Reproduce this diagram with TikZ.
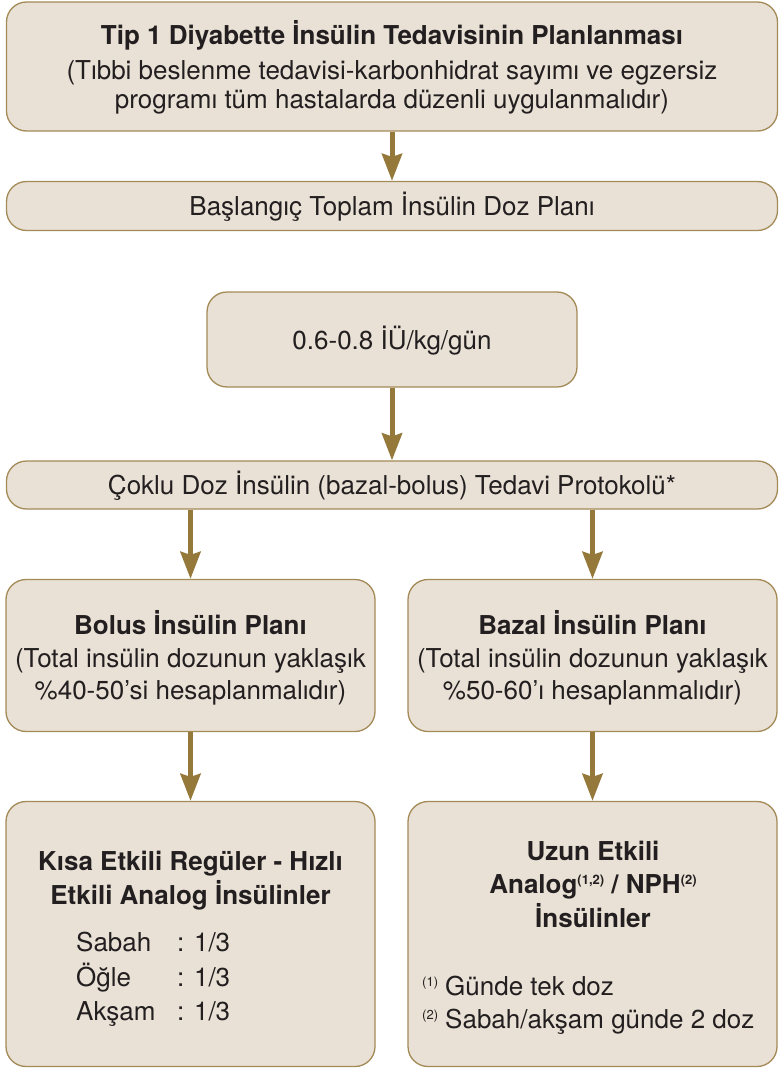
\documentclass[tikz,border=0pt]{standalone}
\usepackage{fontspec}
\setmainfont{TeX Gyre Heros}
\usetikzlibrary{arrows.meta}
\definecolor{boxfill}{HTML}{E9E1D5}
\definecolor{boxline}{HTML}{A38A57}
\definecolor{arrowc}{HTML}{95793A}
\definecolor{txt}{HTML}{231F20}
\newcommand{\mysup}[1]{\raisebox{8.5pt}{\fontsize{13}{13}\selectfont #1}}
\begin{document}
\begin{tikzpicture}[x=1pt,y=-1pt,
  box/.style={draw=boxline, line width=1.3pt, fill=boxfill, rounded corners=20pt, inner sep=0pt},
  arr/.style={draw=arrowc, line width=5pt, -{Stealth[inset=3pt,width=20pt,length=27pt]}},
  lbl/.style={text=txt, font=\fontsize{26}{30}\selectfont, inner sep=0pt, anchor=base},
  lblw/.style={lbl, anchor=base west},
  bold/.style={font=\fontsize{26}{30}\selectfont\bfseries}]
\useasboundingbox (0,0) rectangle (781,1070);
% boxes
\node[box, minimum width=771pt, minimum height=129pt] (b1) at (392,66.5) {};
\node[box, minimum width=771pt, minimum height=49pt] (b2) at (392,206) {};
\node[box, minimum width=370pt, minimum height=95pt] (b3) at (392,339.5) {};
\node[box, minimum width=771pt, minimum height=48pt] (b4) at (392,485) {};
\node[box, minimum width=369pt, minimum height=152pt] (b5) at (190.5,655.5) {};
\node[box, minimum width=369pt, minimum height=152pt] (b6) at (592.5,655.5) {};
\node[box, minimum width=369pt, minimum height=265pt] (b7) at (190.5,934) {};
\node[box, minimum width=369pt, minimum height=265pt] (b8) at (592.5,934) {};
% arrows
\draw[arr] (b1.south) -- (b2.north);
\draw[arr] (b3.south) -- (b4.north);
\draw[arr] (b4.south -| b5.north) -- (b5.north);
\draw[arr] (b4.south -| b6.north) -- (b6.north);
\draw[arr] (b5.south) -- (b7.north);
\draw[arr] (b6.south) -- (b8.north);
% texts box1
\node[lbl, bold] (t1a) at (392,44.5) {Tip 1 Diyabette İnsülin Tedavisinin Planlanması};
\node[lbl] (t1b) at (392,79.5) {(Tıbbi beslenme tedavisi-karbonhidrat sayımı ve egzersiz};
\node[lbl] (t1c) at (392,108.5) {programı tüm hastalarda düzenli uygulanmalıdır)};
% box2
\node[lbl] (t2) at (392,215) {Başlangıç Toplam İnsülin Doz Planı};
% box3
\node[lbl] (t3) at (392,349.5) {0.6-0.8 İÜ/kg/gün};
% box4
\node[lbl] (t4) at (392,494) {Çoklu Doz İnsülin (bazal-bolus) Tedavi Protokolü*};
% box5
\node[lbl, bold] (t5a) at (190.5,634) {Bolus İnsülin Planı};
\node[lbl] (t5b) at (190.5,667) {(Total insülin dozunun yaklaşık};
\node[lbl] (t5c) at (190.5,699) {\%40-50’si hesaplanmalıdır)};
% box6
\node[lbl, bold] (t6a) at (592.5,634) {Bazal İnsülin Planı};
\node[lbl] (t6b) at (592.5,667) {(Total insülin dozunun yaklaşık};
\node[lbl] (t6c) at (592.5,699) {\%50-60’ı hesaplanmalıdır)};
% box7
\node[lbl, bold] (t7a) at (190.5,870) {Kısa Etkili Regüler - Hızlı};
\node[lbl, bold] (t7b) at (190.5,904) {Etkili Analog İnsülinler};
\node[lblw] (s1) at (76,951.5) {Sabah};
\node[lblw] (s2) at (76,986) {Öğle};
\node[lblw] (s3) at (76,1020) {Akşam};
\node[lblw] (v1) at (177,951.5) {: 1/3};
\node[lblw] (v2) at (177,986) {: 1/3};
\node[lblw] (v3) at (177,1020) {: 1/3};
% box8
\node[lbl, bold] (t8a) at (593,860) {Uzun Etkili};
\node[lbl, bold] (t8b) at (593,893) {Analog\mysup{(1,2)} / NPH\mysup{(2)}};
\node[lbl, bold] (t8c) at (593,927.5) {İnsülinler};
\node[lblw] (f1s) at (422,995) {\mysup{(1)}};
\node[lblw] (f1) at (445,995) {Günde tek doz};
\node[lblw] (f2s) at (422,1028) {\mysup{(2)}};
\node[lblw] (f2) at (445,1028) {Sabah/akşam günde 2 doz};
\end{tikzpicture}
\end{document}
